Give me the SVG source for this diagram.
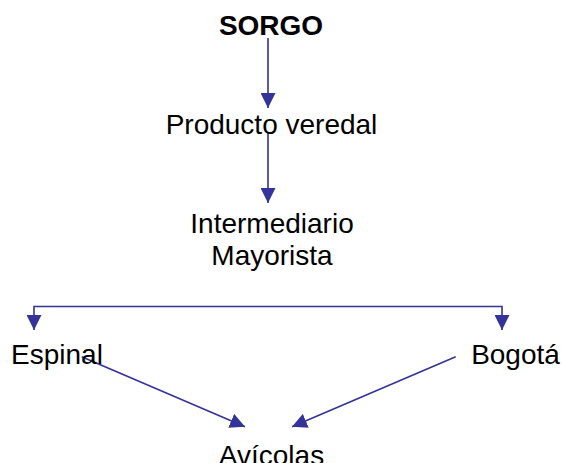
<svg xmlns="http://www.w3.org/2000/svg" width="563" height="463" viewBox="0 0 563 463">
<style>
.t{font-family:"Liberation Sans",Arial,sans-serif;font-size:28px;fill:#000;text-anchor:middle}
.b{font-weight:bold}
.c{fill:none;stroke:#333399;stroke-width:1.6}
</style>
<defs>
<marker id="ah" markerUnits="userSpaceOnUse" markerWidth="15" markerHeight="15" refX="15" refY="7.5" orient="auto" viewBox="0 0 15 15">
<path d="M0,0 L15,7.5 L0,15 z" fill="#333399"/>
</marker>
</defs>
<rect width="563" height="463" fill="#fff"/>
<g id="connectors">
<path class="c" d="M268,38 V108" marker-end="url(#ah)"/>
<path class="c" d="M268,133 V203" marker-end="url(#ah)"/>
<path class="c" d="M268,306.5 H34 V330" marker-end="url(#ah)"/>
<path class="c" d="M268,306.5 H502 V330" marker-end="url(#ah)"/>
<path class="c" d="M81.7,356.7 L245,426.7" marker-end="url(#ah)"/>
<path class="c" d="M455.7,356.7 L292,426.7" marker-end="url(#ah)"/>
</g>
<g id="sorgo"><text class="t b" x="271" y="35">SORGO</text></g>
<g id="producto"><text class="t" x="271.5" y="134">Producto veredal</text></g>
<g id="intermediario"><text class="t" x="272" y="233">Intermediario</text><text class="t" x="272" y="265">Mayorista</text></g>
<g id="espinal"><text class="t" x="57" y="364">Espinal</text></g>
<g id="bogota"><text class="t" x="515.5" y="364">Bogotá</text></g>
<g id="avicolas"><text class="t" x="271.5" y="465">Avícolas</text></g>
</svg>
